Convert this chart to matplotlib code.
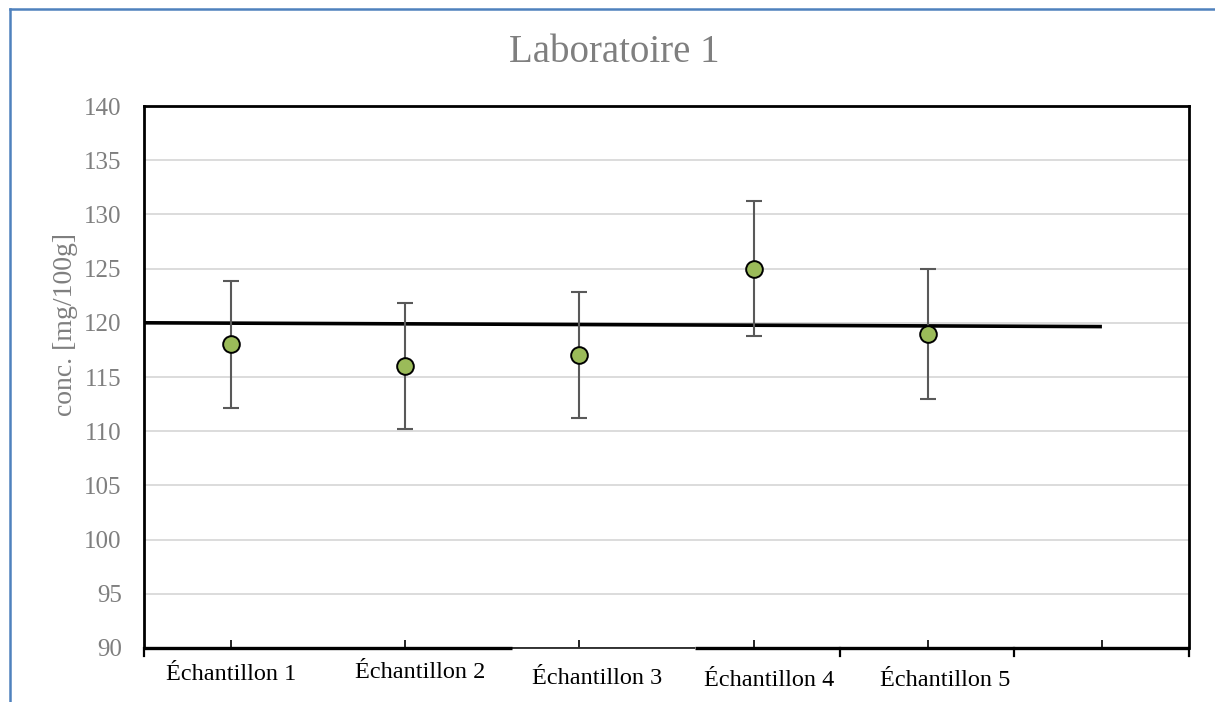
import matplotlib
matplotlib.use("Agg")
import matplotlib.pyplot as plt
from matplotlib.lines import Line2D

# ---- data ----
categories = ["Échantillon 1", "Échantillon 2", "Échantillon 3", "Échantillon 4", "Échantillon 5"]
values = [118, 116, 117, 125, 119]
errors = [5.9, 5.8, 5.8, 6.2, 6.0]
trend_x = [0.5, 6.0]
trend_y = [120.0, 119.65]
y_ticks = list(range(90, 141, 5))

plt.rcParams['font.family'] = ['Liberation Serif', 'DejaVu Serif']

fig = plt.figure(figsize=(12.15, 7.02), dpi=100)
ax = fig.add_axes([144/1215, 54/702, 1045/1215, 542/702])

x = list(range(1, len(values) + 1))

# grid
ax.set_ylim(90, 140)
ax.set_xlim(0.5, 6.5)
ax.set_yticks(y_ticks)
ax.yaxis.grid(True, color='#d9d9d9', lw=1.3)
ax.set_axisbelow(True)

# trend line
ax.plot(trend_x, trend_y, color='black', lw=2.6, zorder=3, solid_capstyle='butt')

# error bars + points
ax.errorbar(x, values, yerr=errors, fmt='none', ecolor='#595959', elinewidth=1.5,
            capsize=6, capthick=1.5, zorder=4)
ax.plot(x, values, 'o', ms=12, mfc='#9BBB59', mec='black', mew=1.4, zorder=5)

# spines
for s in ['left', 'top', 'right']:
    ax.spines[s].set_linewidth(2)
    ax.spines[s].set_color('black')
ax.spines['bottom'].set_visible(False)

# bottom axis (segmented, as in original)
def px2ax(px):
    return (px - 144) / 1045
segs = [(144, 512, 2.4), (512, 695, 1.1), (695, 1189, 2.4)]
for a, b, w in segs:
    ax.add_line(Line2D([px2ax(a), px2ax(b)], [0, 0], transform=ax.transAxes,
                       color='black', lw=w, clip_on=False, solid_capstyle='butt'))
# upward ticks at categories
ax.set_xticks([1, 2, 3, 4, 5, 6])
ax.set_xticklabels([])
ax.tick_params(axis='x', direction='in', length=6, width=1.2, color='black')
# downward ticks
for px in [144, 840, 1014, 1189]:
    ax.add_line(Line2D([px2ax(px), px2ax(px)], [0, -8/542], transform=ax.transAxes,
                       color='black', lw=1.6, clip_on=False))

# y ticks
ax.tick_params(axis='y', length=0, pad=16, labelsize=18, labelcolor='#7f7f7f')
ax.set_ylabel('conc. [mg/100g]', color='#7f7f7f', fontsize=20, va='center')
ax.yaxis.set_label_coords((65 - 144) / 1045, (648 - 324) / 542)

# category labels (offset like original)
label_px = [231, 420, 597, 769, 945]
label_py = [675, 673, 678, 680, 680]
for lbl, px, py in zip(categories, label_px, label_py):
    fig.text(px/1215, 1 - py/702, lbl, ha='center', va='center', fontsize=17.5, color='black')

# title
fig.text(614/1215, 1 - 53/702, 'Laboratoire 1', ha='center', va='center', fontsize=28, color='#7f7f7f')

# outer chart frame (blue, left and top)
fig.add_artist(Line2D([10/1215, 10/1215], [0, 1 - 9/702], color='#4f81bd', lw=1.8, transform=fig.transFigure))
fig.add_artist(Line2D([10/1215, 1], [1 - 9/702, 1 - 9/702], color='#4f81bd', lw=1.8, transform=fig.transFigure))

fig.savefig('out.png', dpi=100)
